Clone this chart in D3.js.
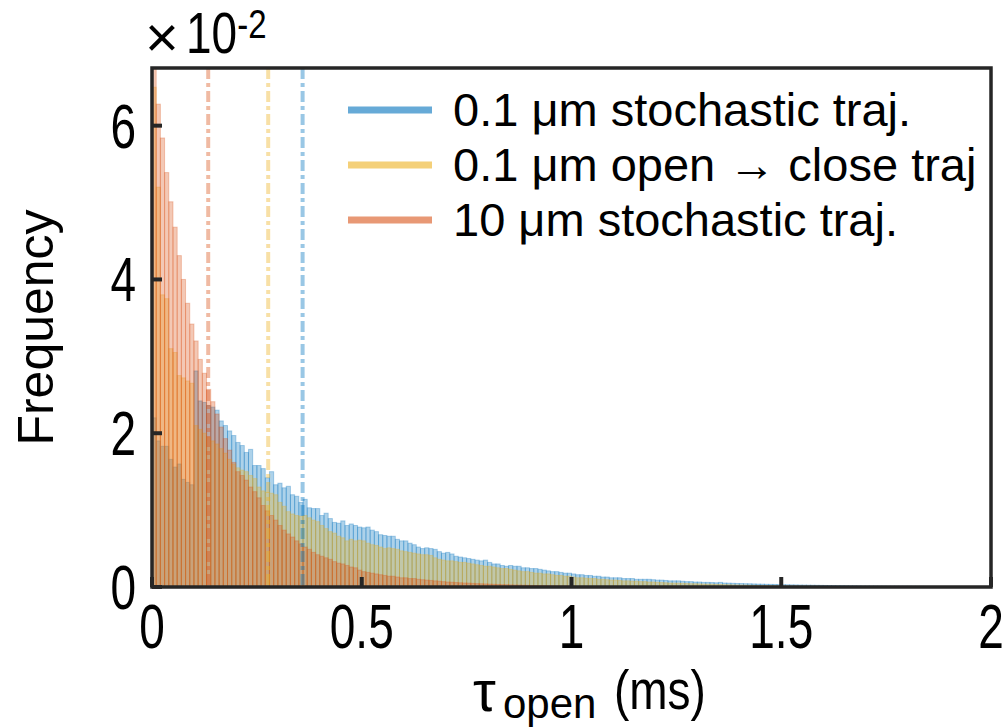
<!DOCTYPE html>
<html>
<head>
<meta charset="utf-8">
<script src="https://cdn.jsdelivr.net/npm/d3@7/dist/d3.min.js"></script>
<style>
  body { margin: 0; background: #fff; }
  text { font-family: "Liberation Sans", Arial, sans-serif; fill: #000; }
</style>
</head>
<body>
<script>
// bin width 0.01 ms, values in units of 1e-2
var binWidth = 0.01;

var blueFreq = [
  2.2, 1.9, 1.83, 1.83, 1.66, 1.56, 1.6, 1.4, 1.36, 1.33,
  2.81, 2.42, 2.4, 2.36, 2.34, 2.3, 2.16, 2.1, 2.03, 1.97,
  1.88, 1.84, 1.75, 1.79, 1.58, 1.58, 1.54, 1.42, 1.5, 1.33,
  1.35, 1.29, 1.31, 1.2, 1.18, 1.1, 1.14, 1.03, 1.02, 1.02,
  0.93, 0.96, 0.89, 0.84, 0.83, 0.86, 0.8, 0.82, 0.8, 0.78,
  0.77, 0.78, 0.74, 0.72, 0.68, 0.67, 0.66, 0.66, 0.62, 0.6,
  0.6, 0.57, 0.55, 0.52, 0.5, 0.51, 0.5, 0.49, 0.46, 0.44,
  0.45, 0.43, 0.4, 0.39, 0.38, 0.37, 0.36, 0.35, 0.34, 0.35,
  0.32, 0.3, 0.3, 0.28, 0.27, 0.28, 0.27, 0.27, 0.25, 0.25,
  0.24, 0.24, 0.23, 0.22, 0.21, 0.2, 0.2, 0.19, 0.18, 0.18,
  0.17, 0.16, 0.16, 0.15, 0.15, 0.14, 0.14, 0.13, 0.13, 0.12,
  0.12, 0.12, 0.11, 0.11, 0.11, 0.1, 0.1, 0.1, 0.1, 0.095,
  0.09, 0.09, 0.085, 0.08, 0.08, 0.08, 0.075, 0.07, 0.07, 0.065,
  0.065, 0.06, 0.06, 0.058, 0.055, 0.06, 0.052, 0.05, 0.048, 0.046,
  0.045, 0.043, 0.042, 0.04, 0.038, 0.037, 0.035, 0.034, 0.033, 0.031,
  0.03, 0.029, 0.028, 0.027, 0.026, 0.025, 0.024, 0.023, 0.022, 0.021,
  0.02, 0.019, 0.018, 0.017, 0.017, 0.016, 0.015, 0.015, 0.014, 0.013,
  0.013, 0.012, 0.012, 0.011, 0.011, 0.01, 0.01, 0.01, 0.009, 0.009,
  0.009, 0.008, 0.008, 0.008, 0.007, 0.007, 0.007, 0.006, 0.006, 0.006,
  0.006, 0.005, 0.005, 0.005, 0.005, 0.004, 0.004, 0.004, 0.004, 0.004
];

var yellowFreq = [
  6.5, 5.2, 3.8, 3.75, 3.1, 3.05, 2.75, 2.72, 2.68, 2.65,
  2.1, 2.05, 2.0, 1.95, 1.9, 1.86, 1.8, 1.74, 1.66, 1.6,
  1.55, 1.52, 1.5, 1.45, 1.41, 1.3, 1.25, 1.23, 1.22, 1.2,
  1.1, 1.05, 0.98, 0.95, 0.93, 0.92, 0.93, 0.9, 0.87, 0.85,
  0.8, 0.76, 0.72, 0.7, 0.66, 0.64, 0.6, 0.62, 0.6, 0.61,
  0.6, 0.57, 0.55, 0.54, 0.52, 0.5, 0.51, 0.5, 0.49, 0.47,
  0.46, 0.45, 0.44, 0.43, 0.42, 0.42, 0.41, 0.38, 0.36, 0.35,
  0.34, 0.34, 0.33, 0.32, 0.32, 0.31, 0.3, 0.29, 0.28, 0.27,
  0.27, 0.26, 0.25, 0.24, 0.24, 0.23, 0.22, 0.21, 0.2, 0.2,
  0.19, 0.18, 0.18, 0.17, 0.17, 0.16, 0.15, 0.15, 0.14, 0.14,
  0.13, 0.12, 0.12, 0.115, 0.11, 0.11, 0.1, 0.1, 0.095, 0.09,
  0.09, 0.085, 0.08, 0.08, 0.075, 0.075, 0.07, 0.07, 0.065, 0.065,
  0.06, 0.058, 0.055, 0.052, 0.05, 0.05, 0.048, 0.045, 0.043, 0.042,
  0.04, 0.038, 0.036, 0.035, 0.033, 0.032, 0.03, 0.029, 0.027, 0.026,
  0.025, 0.024, 0.022, 0.021, 0.02, 0.019, 0.018, 0.017, 0.016, 0.015,
  0.014, 0.013, 0.012, 0.012, 0.011, 0.01, 0.01, 0.009, 0.009, 0.008,
  0.008, 0.007, 0.007, 0.006, 0.006, 0.005, 0.005, 0.005, 0.004, 0.004
];

var redFreq = [
  7.1, 6.28, 5.84, 5.39, 5.01, 4.68, 4.31, 4.0, 3.69, 3.42,
  3.2, 2.96, 2.78, 2.57, 2.41, 2.25, 2.08, 1.93, 1.78, 1.62,
  1.5, 1.45, 1.39, 1.3, 1.24, 1.16, 1.06, 0.99, 0.93, 0.87,
  0.8, 0.74, 0.69, 0.65, 0.6, 0.56, 0.52, 0.49, 0.45, 0.42,
  0.4, 0.38, 0.36, 0.33, 0.31, 0.3, 0.28, 0.26, 0.25, 0.22,
  0.2, 0.19, 0.18, 0.17, 0.16, 0.15, 0.14, 0.14, 0.13, 0.12,
  0.12, 0.11, 0.11, 0.1, 0.095, 0.09, 0.085, 0.08, 0.075, 0.07,
  0.065, 0.062, 0.058, 0.055, 0.052, 0.05, 0.047, 0.044, 0.042, 0.04,
  0.037, 0.035, 0.033, 0.031, 0.03, 0.028, 0.026, 0.025, 0.023, 0.022,
  0.02, 0.019, 0.018, 0.017, 0.016, 0.015, 0.014, 0.013, 0.012, 0.011,
  0.01
];

// mean open times (ms), drawn as dash-dot lines
var meanLines = [0.359, 0.277, 0.134];

var seriesNames = [
  '0.1 \u03bcm stochastic traj.',
  '0.1 \u03bcm open \u2192 close traj',
  '10 \u03bcm stochastic traj.'
];
var seriesColors = ['#0072BD', '#EDB120', '#D95319'];
var seriesData = [blueFreq, yellowFreq, redFreq];

var xTicks = [0, 0.5, 1, 1.5, 2];
var xTickLabels = ['0', '0.5', '1', '1.5', '2'];
var yTicks = [0, 2, 4, 6];

var W = 1006, H = 728;
var pL = 152, pR = 991, pT = 68, pB = 587;

var x = d3.scaleLinear().domain([0, 2]).range([pL, pR]);
var y = d3.scaleLinear().domain([0, 6.75]).range([pB, pT]);

var svg = d3.select('body').append('svg').attr('width', W).attr('height', H);

svg.append('clipPath').attr('id', 'plotclip')
  .append('rect')
  .attr('x', pL).attr('y', pT)
  .attr('width', pR - pL).attr('height', pB - pT);

var plot = svg.append('g').attr('clip-path', 'url(#plotclip)');

seriesData.forEach(function (vals, k) {
  plot.append('g').selectAll('rect').data(vals).enter().append('rect')
    .attr('x', function (d, i) { return x(i * binWidth); })
    .attr('width', function (d, i) { return x((i + 1) * binWidth) - x(i * binWidth); })
    .attr('y', function (d) { return y(d); })
    .attr('height', function (d) { return y(0) - y(d); })
    .attr('fill', seriesColors[k])
    .attr('fill-opacity', 0.32)
    .attr('stroke', seriesColors[k])
    .attr('stroke-opacity', 0.3)
    .attr('stroke-width', 1);
});

plot.selectAll('line.mean').data(meanLines).enter().append('line')
  .attr('class', 'mean')
  .attr('x1', function (d) { return x(d); })
  .attr('x2', function (d) { return x(d); })
  .attr('y1', pT).attr('y2', pB)
  .attr('stroke', function (d, i) { return seriesColors[i]; })
  .attr('stroke-opacity', 0.4)
  .attr('stroke-width', 4)
  .attr('stroke-dasharray', '11,4,4,4');

// axes box and ticks
var axisColor = '#262626';
svg.append('rect')
  .attr('x', pL).attr('y', pT)
  .attr('width', pR - pL).attr('height', pB - pT)
  .attr('fill', 'none').attr('stroke', axisColor).attr('stroke-width', 3.5);

svg.selectAll('line.xt').data(xTicks).enter().append('line')
  .attr('x1', function (d) { return x(d); })
  .attr('x2', function (d) { return x(d); })
  .attr('y1', pB).attr('y2', pB - 10)
  .attr('stroke', axisColor).attr('stroke-width', 4);

svg.selectAll('line.yt').data(yTicks).enter().append('line')
  .attr('x1', pL).attr('x2', pL + 10)
  .attr('y1', function (d) { return y(d); })
  .attr('y2', function (d) { return y(d); })
  .attr('stroke', axisColor).attr('stroke-width', 4);

// text is a little taller than wide in the original
var stretch = 1.35;

svg.selectAll('text.xl').data(xTicks).enter().append('text')
  .attr('transform', function (d) { return 'translate(' + x(d) + ',648) scale(1,' + stretch + ')'; })
  .attr('text-anchor', 'middle')
  .attr('font-size', 46)
  .text(function (d, i) { return xTickLabels[i]; });

svg.selectAll('text.yl').data(yTicks).enter().append('text')
  .attr('transform', function (d) { return 'translate(136,' + (y(d) + 22) + ') scale(1,' + stretch + ')'; })
  .attr('text-anchor', 'end')
  .attr('font-size', 46)
  .text(function (d) { return d; });

// exponent
svg.append('text')
  .attr('x', 145).attr('y', 57)
  .attr('font-size', 58)
  .text('\u00d7');
var ex = svg.append('text')
  .attr('transform', 'translate(186,53) scale(1,1.25)')
  .attr('font-size', 46);
ex.append('tspan').text('10');
ex.append('tspan').attr('dy', -12).attr('font-size', 33).text('-2');

// axis labels
svg.append('text')
  .attr('transform', 'translate(53,' + ((pT + pB) / 2) + ') rotate(-90)')
  .attr('text-anchor', 'middle')
  .attr('font-size', 50)
  .text('Frequency');

svg.append('text')
  .attr('transform', 'translate(473,711) scale(1.2,1.2)')
  .attr('font-size', 48)
  .text('\u03c4');
svg.append('text')
  .attr('x', 503).attr('y', 718)
  .attr('font-size', 42)
  .text('open');
svg.append('text')
  .attr('transform', 'translate(614,709) scale(1,1.2)')
  .attr('font-size', 46)
  .text('(ms)');

// legend
var legend = svg.append('g');
seriesNames.forEach(function (name, k) {
  var ly = 110 + k * 55;
  legend.append('line')
    .attr('x1', 348).attr('x2', 432)
    .attr('y1', ly).attr('y2', ly)
    .attr('stroke', seriesColors[k]).attr('stroke-opacity', 0.6)
    .attr('stroke-width', 7);
  legend.append('text')
    .attr('x', 453).attr('y', ly + 16)
    .attr('font-size', 47)
    .text(name);
});
</script>
</body>
</html>
